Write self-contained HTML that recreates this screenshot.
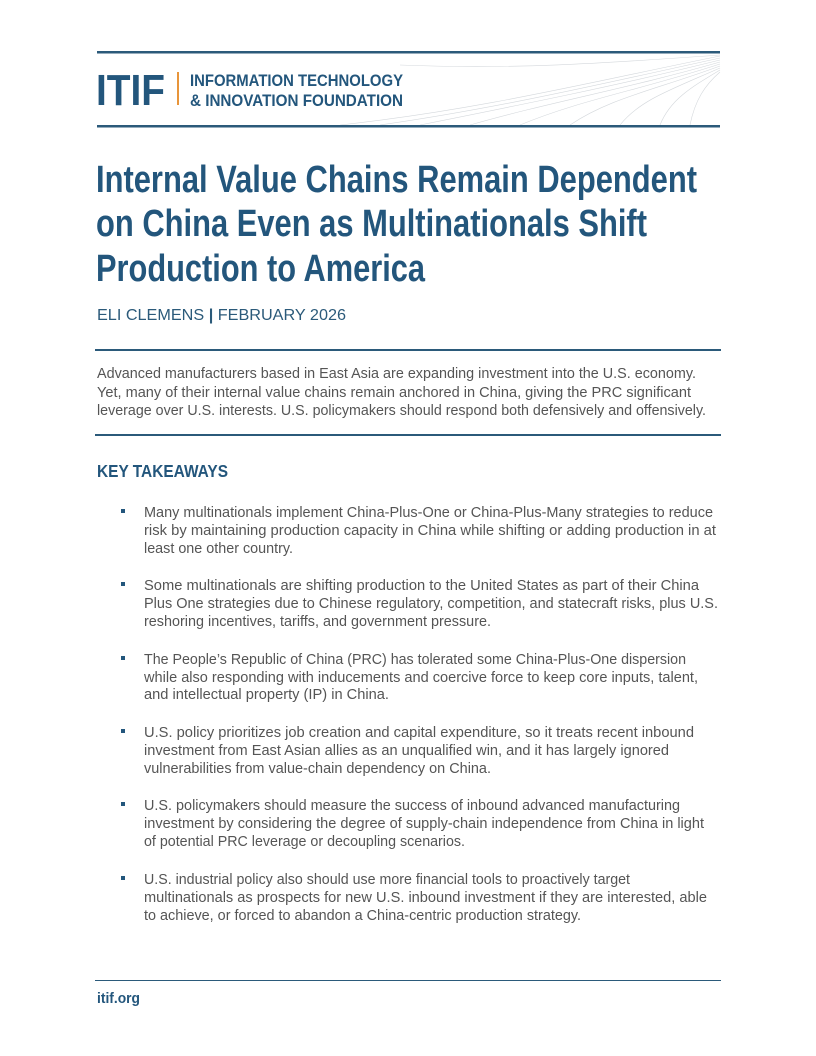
<!DOCTYPE html>
<html><head><meta charset="utf-8"><style>html,body{margin:0;padding:0;background:#fff}svg{display:block}</style></head>
<body>
<svg width="816" height="1056" viewBox="0 0 816 1056" xmlns="http://www.w3.org/2000/svg" font-family="Liberation Sans, sans-serif">
<rect width="816" height="1056" fill="#fff"/>
<g fill="none" stroke="#d4d8dc" stroke-width="0.6">
<path d="M340 125 C 480 110, 600 80, 720 56"/>
<path d="M380 125 C 500 108, 610 82, 720 58"/>
<path d="M420 125 C 520 105, 620 85, 720 60"/>
<path d="M470 125 C 550 102, 630 88, 720 62"/>
<path d="M520 125 C 580 100, 640 90, 720 64"/>
<path d="M570 125 C 610 98, 655 90, 720 66"/>
<path d="M620 125 C 640 100, 670 90, 720 68"/>
<path d="M660 125 C 670 100, 690 88, 720 70"/>
<path d="M690 125 C 695 100, 705 85, 720 72"/>
<path d="M400 65 C 520 70, 620 62, 720 55"/>
</g>
<rect x="97" y="51" width="623" height="2.5" fill="#2b5a7a"/>
<rect x="97" y="125" width="623" height="2.5" fill="#2b5a7a"/>
<text x="96" y="105" font-size="44" font-weight="bold" fill="#23567c" textLength="69" lengthAdjust="spacingAndGlyphs">ITIF</text>
<rect x="177" y="72" width="2" height="33" fill="#e8953a"/>
<g font-weight="bold" fill="#23567c" font-size="17">
<text x="190" y="86" textLength="213" lengthAdjust="spacingAndGlyphs">INFORMATION TECHNOLOGY</text>
<text x="190" y="106" textLength="213" lengthAdjust="spacingAndGlyphs">&amp; INNOVATION FOUNDATION</text>
</g>
<g font-weight="bold" fill="#23567c" font-size="38">
<text x="96" y="192" textLength="601" lengthAdjust="spacingAndGlyphs">Internal Value Chains Remain Dependent</text>
<text x="96" y="236" textLength="551" lengthAdjust="spacingAndGlyphs">on China Even as Multinationals Shift</text>
<text x="96" y="281" textLength="329" lengthAdjust="spacingAndGlyphs">Production to America</text>
</g>
<text x="97" y="320" font-size="15.5" fill="#2b5a7a" textLength="249" lengthAdjust="spacingAndGlyphs">ELI CLEMENS  <tspan font-weight="bold">|</tspan>  FEBRUARY 2026</text>
<rect x="95" y="349" width="626" height="2" fill="#2b5a7a"/>
<rect x="95" y="434" width="626" height="2" fill="#2b5a7a"/>
<g font-size="14.5" fill="#555">
<text x="97" y="378" textLength="599" lengthAdjust="spacingAndGlyphs">Advanced manufacturers based in East Asia are expanding investment into the U.S. economy.</text>
<text x="97" y="397" textLength="594" lengthAdjust="spacingAndGlyphs">Yet, many of their internal value chains remain anchored in China, giving the PRC significant</text>
<text x="97" y="415" textLength="609" lengthAdjust="spacingAndGlyphs">leverage over U.S. interests. U.S. policymakers should respond both defensively and offensively.</text>
</g>
<text x="97" y="477" font-size="17.5" font-weight="bold" fill="#23567c" textLength="131" lengthAdjust="spacingAndGlyphs">KEY TAKEAWAYS</text>
<g fill="#23567c">
<rect x="121" y="509" width="4" height="4"/><rect x="121" y="582" width="4" height="4"/><rect x="121" y="656" width="4" height="4"/>
<rect x="121" y="729" width="4" height="4"/><rect x="121" y="802" width="4" height="4"/><rect x="121" y="876" width="4" height="4"/>
</g>
<g font-size="14.5" fill="#555" lengthAdjust="spacingAndGlyphs">
<text x="144" y="517" textLength="569" lengthAdjust="spacingAndGlyphs">Many multinationals implement China-Plus-One or China-Plus-Many strategies to reduce</text>
<text x="144" y="535" textLength="572" lengthAdjust="spacingAndGlyphs">risk by maintaining production capacity in China while shifting or adding production in at</text>
<text x="144" y="553" textLength="149" lengthAdjust="spacingAndGlyphs">least one other country.</text>
<text x="144" y="590" textLength="555" lengthAdjust="spacingAndGlyphs">Some multinationals are shifting production to the United States as part of their China</text>
<text x="144" y="608" textLength="574" lengthAdjust="spacingAndGlyphs">Plus One strategies due to Chinese regulatory, competition, and statecraft risks, plus U.S.</text>
<text x="144" y="626" textLength="347" lengthAdjust="spacingAndGlyphs">reshoring incentives, tariffs, and government pressure.</text>
<text x="144" y="664" textLength="542" lengthAdjust="spacingAndGlyphs">The People’s Republic of China (PRC) has tolerated some China-Plus-One dispersion</text>
<text x="144" y="682" textLength="554" lengthAdjust="spacingAndGlyphs">while also responding with inducements and coercive force to keep core inputs, talent,</text>
<text x="144" y="699" textLength="245" lengthAdjust="spacingAndGlyphs">and intellectual property (IP) in China.</text>
<text x="144" y="737" textLength="550" lengthAdjust="spacingAndGlyphs">U.S. policy prioritizes job creation and capital expenditure, so it treats recent inbound</text>
<text x="144" y="755" textLength="525" lengthAdjust="spacingAndGlyphs">investment from East Asian allies as an unqualified win, and it has largely ignored</text>
<text x="144" y="773" textLength="347" lengthAdjust="spacingAndGlyphs">vulnerabilities from value-chain dependency on China.</text>
<text x="144" y="810" textLength="536" lengthAdjust="spacingAndGlyphs">U.S. policymakers should measure the success of inbound advanced manufacturing</text>
<text x="144" y="828" textLength="560" lengthAdjust="spacingAndGlyphs">investment by considering the degree of supply-chain independence from China in light</text>
<text x="144" y="846" textLength="321" lengthAdjust="spacingAndGlyphs">of potential PRC leverage or decoupling scenarios.</text>
<text x="144" y="884" textLength="486" lengthAdjust="spacingAndGlyphs">U.S. industrial policy also should use more financial tools to proactively target</text>
<text x="144" y="902" textLength="563" lengthAdjust="spacingAndGlyphs">multinationals as prospects for new U.S. inbound investment if they are interested, able</text>
<text x="144" y="920" textLength="437" lengthAdjust="spacingAndGlyphs">to achieve, or forced to abandon a China-centric production strategy.</text>
</g>
<rect x="95" y="980" width="626" height="1" fill="#2b5a7a"/>
<text x="97" y="1003" font-size="14.5" font-weight="bold" fill="#23567c" textLength="43" lengthAdjust="spacingAndGlyphs">itif.org</text>
</svg>
</body></html>
